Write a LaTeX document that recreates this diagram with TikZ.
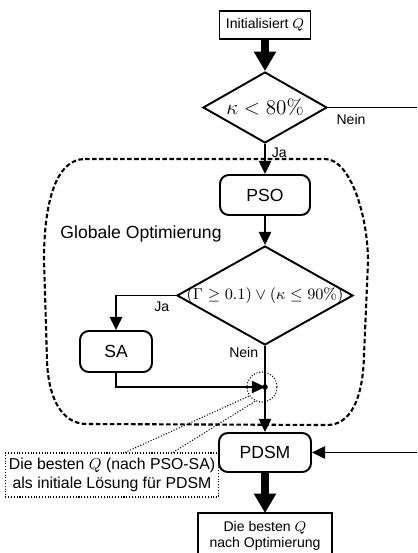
\documentclass[tikz,border=0pt]{standalone}
\usepackage[no-math]{fontspec}
\setmainfont{Liberation Sans}
\usetikzlibrary{shapes.geometric,arrows.meta}
\begin{document}
\begin{tikzpicture}[x=0.02cm, y=-0.02cm,
        proc/.style={draw, rectangle, rounded corners=5pt, line width=1.1pt, inner sep=0pt},
        iobox/.style={draw, rectangle, line width=1.1pt, inner sep=0pt, font=\footnotesize, align=center},
        cond/.style={draw, diamond, line width=1.1pt, inner sep=0pt},
        flow/.style={line width=1.1pt, -{Triangle[length=7.5pt,width=7pt]}},
        bigflow/.style={line width=5pt, -{Triangle[length=11pt,width=12pt]}},
        lbl/.style={font=\footnotesize}]
        \useasboundingbox (0,0) rectangle (417,553);
        % Globale Optimierung
        \draw[dash pattern=on 2.6pt off 1.4pt, line width=1.2pt]
            (85,159) -- (325,159) .. controls (350,159) and (368,215) .. (368,262)
            -- (364,355) .. controls (363,400) and (350,425) .. (327,425)
            -- (87,424) .. controls (60,424) and (48,395) .. (47,360)
            -- (44,260) .. controls (44,205) and (55,159) .. (85,159) -- cycle;
        \node (glob) at (141,234) {Globale Optimierung};
        \node[iobox, minimum width=1.82cm, minimum height=0.56cm] (init) at (265,25) {Initialisiert $Q$};
        \node[cond, minimum width=2.48cm, minimum height=1.42cm] (d1) at (265,107.5) {};
        \node[font=\large] at (d1) {$\kappa < 80\%$};
        \node[proc, minimum width=1.8cm, minimum height=0.8cm] (pso) at (265,195) {PSO};
        \node[cond, minimum width=3.52cm, minimum height=1.98cm] (d2) at (265,295.5) {};
        \node[font=\small] at (d2) {$(\Gamma \geq 0.1) \vee (\kappa \leq 90\%)$};
        \node[proc, minimum width=1.44cm, minimum height=0.82cm] (sa) at (116,351.5) {SA};
        \node[proc, minimum width=1.84cm, minimum height=0.78cm] (pdsm) at (265,452.5) {PDSM};
        \node[iobox, draw=none, anchor=north, minimum width=2.66cm, minimum height=0.88cm] (res) at (265,513)
            {Die besten $Q$\\nach Optimierung};
        \draw[line width=1.1pt] (res.north west) rectangle ([yshift=-0.5cm]res.south east);
        \node[draw, densely dotted, line width=0.6pt, font=\small, align=center, inner sep=2pt,
            minimum width=4cm, minimum height=0.88cm] (note) at (112,475)
            {Die besten $Q$ (nach PSO-SA)\\als initiale Lösung für PDSM};
        \coordinate (j) at (265,387);
        \node[circle, draw, densely dotted, line width=0.6pt, minimum size=0.6cm] (jc) at (262,387) {};
        \coordinate (r1) at (417,107.5);
        \coordinate (r2) at (417,452.5);
        % Ablauf
        \draw[bigflow] (init) -- (d1);
        \draw[line width=1.1pt] (d1.east) -- node[lbl, pos=0, below right, xshift=1pt] {Nein} (r1);
        \draw[flow] (d1.south) -- node[lbl, pos=0.28, right] {Ja} (pso.north);
        \draw[flow] (pso) -- (d2);
        \draw[flow] (d2.west) -- node[lbl, pos=0, below left] {Ja} (116,295.5) -- (sa.north);
        \draw[flow] (d2.south) -- node[lbl, pos=0.08, left] {Nein} (pdsm.north);
        \draw[flow] (sa.south) |- (j);
        \fill (j) circle (1.6pt);
        \draw[flow] (r2) -- (pdsm.east);
        \draw[bigflow] (pdsm) -- (res);
        \draw[densely dotted, line width=0.6pt] ([xshift=0.26cm]note.north) -- (jc.215);
        \draw[densely dotted, line width=0.6pt] ([xshift=1.22cm]note.north) -- (jc.245);
    \end{tikzpicture}
\end{document}
